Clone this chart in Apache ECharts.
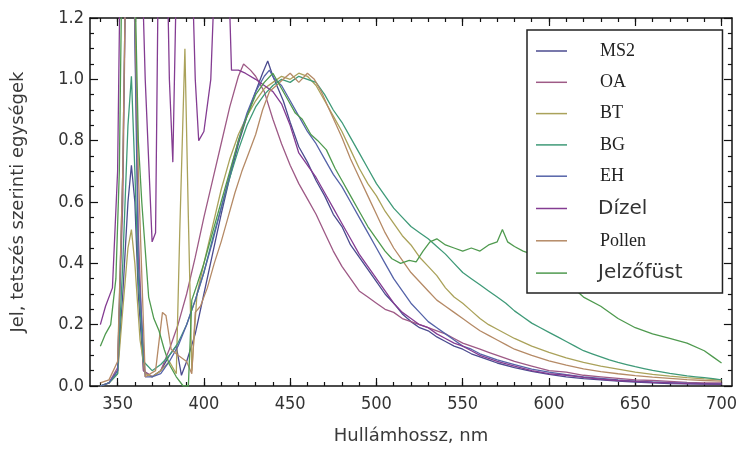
<!DOCTYPE html>
<html><head><meta charset="utf-8">
<script src="https://cdn.jsdelivr.net/npm/echarts@6/dist/echarts.min.js"></script>
<style>html,body{margin:0;padding:0;background:#fff}#c{width:740px;height:450px}</style>
</head><body><div id="c"></div>
<script>
// ---- data (wavelength nm / signal, arbitrary units) ----
const seriesNames = ['MS2','OA','BT','BG','EH','Dízel','Pollen','Jelzőfüst'];
const xTickLabels = [350,400,450,500,550,600,650,700];
const xMinorTicks = [340,350,360,370,380,390,400,410,420,430,440,450,460,470,480,490,500,510,520,530,540,550,560,570,580,590,600,610,620,630,640,650,660,670,680,690,700];

const ms2Nm = [340,345,350,353,356,358,360,362,365,370,375,380,384,387,390,395,400,405,410,415,420,425,430,434,437,440,443,446,450,455,460,465,470,475,480,485,490,495,500,505,510,515,520,525,530,535,540,545,550,555,560,565,570,580,590,600,610,620,630,640,650,660,670,680,690,700];
const ms2Val = [0.0,0.01,0.05,0.3,0.6,0.72,0.6,0.3,0.05,0.03,0.05,0.1,0.13,0.035,0.08,0.17,0.3,0.43,0.56,0.68,0.79,0.88,0.96,1.02,1.06,1.01,0.97,0.93,0.86,0.78,0.73,0.67,0.62,0.56,0.52,0.46,0.42,0.38,0.34,0.3,0.27,0.235,0.21,0.19,0.18,0.16,0.145,0.13,0.12,0.105,0.095,0.085,0.075,0.06,0.048,0.038,0.03,0.024,0.02,0.016,0.013,0.01,0.008,0.007,0.006,0.005];

const oaNm = [340,345,350,353,355,359,362,365,370,375,380,385,390,395,400,405,410,415,420,423,427,430,435,440,445,450,455,460,465,470,475,480,485,490,495,500,505,510,515,520,525,530,535,540,545,550,555,560,565,570,575,580,590,600,610,620,630,640,650,660,670,680,690,700];
const oaVal = [0.0,0.01,0.06,0.6,1.5,1.5,0.5,0.05,0.03,0.05,0.12,0.2,0.3,0.42,0.55,0.67,0.79,0.91,1.01,1.05,1.03,1.01,0.96,0.87,0.79,0.72,0.66,0.61,0.56,0.5,0.44,0.39,0.35,0.31,0.29,0.27,0.25,0.24,0.22,0.21,0.2,0.19,0.18,0.17,0.155,0.14,0.13,0.12,0.11,0.1,0.09,0.08,0.065,0.05,0.045,0.035,0.03,0.025,0.02,0.018,0.015,0.012,0.01,0.01];

const btNm = [340,345,350,353,356,358,360,363,366,370,375,380,384,386,389,391,393,396,400,405,410,415,420,425,430,435,440,445,450,455,460,465,470,475,480,485,490,495,500,505,510,515,520,525,530,535,540,545,550,555,560,565,570,580,590,600,610,620,630,640,650,660,670,680,690,700];
const btVal = [0.0,0.01,0.04,0.25,0.45,0.51,0.4,0.15,0.04,0.03,0.05,0.08,0.04,0.5,1.1,0.55,0.05,0.3,0.4,0.52,0.64,0.74,0.82,0.88,0.93,0.97,0.99,1.01,1.0,1.02,1.01,0.98,0.93,0.88,0.83,0.77,0.71,0.66,0.62,0.57,0.53,0.49,0.46,0.42,0.39,0.36,0.32,0.29,0.27,0.245,0.22,0.2,0.185,0.155,0.13,0.11,0.092,0.077,0.065,0.055,0.045,0.038,0.032,0.027,0.023,0.02];

const bgNm = [340,345,350,353,356,358,360,362,365,370,375,380,385,390,395,400,405,410,415,420,425,430,435,440,445,450,455,460,465,470,475,480,485,490,495,500,505,510,515,520,525,530,535,540,545,550,555,560,565,570,575,580,585,590,595,600,605,610,615,620,625,630,635,640,645,650,655,660,665,670,675,680,685,690,695,700];
const bgVal = [0.0,0.01,0.04,0.4,0.85,1.01,0.7,0.35,0.08,0.05,0.07,0.1,0.14,0.2,0.28,0.37,0.48,0.58,0.68,0.77,0.85,0.91,0.95,0.98,1.0,0.99,1.01,1.0,0.99,0.95,0.9,0.86,0.81,0.76,0.71,0.66,0.62,0.58,0.55,0.52,0.5,0.48,0.455,0.43,0.4,0.37,0.35,0.33,0.31,0.29,0.27,0.245,0.225,0.205,0.19,0.175,0.16,0.145,0.13,0.115,0.105,0.095,0.085,0.077,0.07,0.063,0.057,0.051,0.046,0.041,0.037,0.033,0.03,0.027,0.024,0.02];

const ehNm = [340,345,350,353,355,359,362,366,370,375,380,385,390,395,400,405,410,415,420,425,430,435,438,441,445,450,455,460,465,470,475,480,485,490,495,500,505,510,515,520,525,530,535,540,545,550,555,560,565,570,580,590,600,610,620,630,640,650,660,670,680,690,700];
const ehVal = [0.0,0.01,0.05,0.7,1.5,1.5,0.4,0.03,0.03,0.04,0.08,0.13,0.2,0.28,0.37,0.47,0.58,0.69,0.8,0.89,0.96,1.01,1.03,1.0,0.98,0.93,0.88,0.83,0.79,0.74,0.69,0.65,0.6,0.55,0.5,0.45,0.4,0.35,0.31,0.27,0.24,0.21,0.19,0.17,0.15,0.13,0.12,0.105,0.095,0.085,0.07,0.055,0.045,0.037,0.03,0.025,0.02,0.016,0.013,0.011,0.009,0.008,0.007];

const dizelNm = [340,343,347,350,352,363,366,370,372,374,378,380,382,385,392,395,397,400,404,408,413,416,420,424,430,435,440,445,450,455,460,465,470,475,480,485,490,495,500,505,510,515,520,525,530,535,540,545,550,555,560,565,570,580,590,600,610,620,630,640,650,660,670,680,690,700];
const dizelVal = [0.2,0.26,0.32,0.7,1.6,1.6,1.0,0.47,0.5,1.6,1.6,1.0,0.73,1.6,1.6,1.0,0.8,0.83,1.0,1.6,1.6,1.03,1.03,1.02,1.0,0.98,0.96,0.92,0.85,0.76,0.72,0.68,0.63,0.58,0.53,0.48,0.43,0.39,0.35,0.31,0.27,0.24,0.22,0.2,0.19,0.17,0.155,0.14,0.13,0.115,0.1,0.09,0.08,0.065,0.05,0.04,0.035,0.028,0.022,0.018,0.015,0.012,0.01,0.008,0.007,0.006];

const pollenNm = [340,345,350,353,355,359,362,366,372,376,378,381,385,390,393,395,398,402,406,410,414,418,422,426,430,434,438,442,446,450,455,460,464,468,472,476,480,485,490,495,500,505,510,515,520,525,530,535,540,545,550,555,560,565,570,575,580,590,600,610,620,630,640,650,660,670,680,690,700];
const pollenVal = [0.01,0.02,0.08,0.7,1.5,1.5,0.7,0.03,0.05,0.24,0.23,0.12,0.1,0.08,0.04,0.24,0.26,0.32,0.4,0.47,0.55,0.63,0.7,0.76,0.82,0.9,0.96,0.98,1.0,1.02,0.99,1.02,1.0,0.96,0.91,0.86,0.81,0.74,0.68,0.62,0.56,0.5,0.45,0.41,0.37,0.34,0.31,0.28,0.26,0.24,0.22,0.2,0.18,0.165,0.15,0.135,0.12,0.1,0.082,0.068,0.056,0.047,0.04,0.034,0.029,0.025,0.021,0.018,0.016];

const smokeNm = [340,343,346,349,351,353,359,362,364,368,371,374,377,380,384,388,391,393,396,400,405,410,415,420,425,430,435,440,444,449,453,457,462,466,471,476,480,485,490,495,500,505,509,514,519,523,527,531,535,540,545,550,555,560,565,570,573,576,580,585,590,595,600,610,620,630,640,650,660,670,680,690,695,700];
const smokeVal = [0.13,0.17,0.2,0.35,0.7,1.6,1.6,0.8,0.6,0.29,0.22,0.18,0.12,0.07,0.03,0.0,0.0,0.28,0.33,0.4,0.5,0.6,0.7,0.8,0.88,0.95,0.99,1.02,0.98,0.93,0.89,0.87,0.82,0.8,0.77,0.71,0.67,0.62,0.57,0.52,0.48,0.44,0.415,0.4,0.41,0.405,0.44,0.47,0.48,0.46,0.45,0.44,0.45,0.44,0.46,0.47,0.51,0.47,0.455,0.44,0.43,0.41,0.38,0.34,0.29,0.26,0.22,0.19,0.17,0.155,0.14,0.115,0.095,0.075];

const seriesColors = ['#4b4b8f','#9e5a86','#aaa25a','#3f9a78','#5563a8','#843c92','#b58a66','#4f9a4f'];

// ---- build ----
function zip(xs, ys){ const n=Math.min(xs.length, ys.length); const out=[]; for(let i=0;i<n;i++) out.push([xs[i], ys[i]]); return out; }
const allData = [zip(ms2Nm,ms2Val), zip(oaNm,oaVal), zip(btNm,btVal), zip(bgNm,bgVal), zip(ehNm,ehVal), zip(dizelNm,dizelVal), zip(pollenNm,pollenVal), zip(smokeNm,smokeVal)];

const X_MIN = 334, X_MAX = 706;
const axisCol = '#111';
const labelFont = {fontFamily:'"Liberation Sans Narrow","DejaVu Sans Condensed","Liberation Sans",sans-serif', fontSize:18, color:'#333'};
const serifItem = {fontFamily:'"Liberation Serif",serif', fontSize:18, color:'#222', lineHeight:16, padding:[0,0,0,28]};
const sansItem = {fontFamily:'"DejaVu Sans",sans-serif', fontSize:20, color:'#333', lineHeight:16, padding:[0,0,0,26]};

function xAx(pos, major, show){
  return {type:'value', min:X_MIN, max:X_MAX, position:pos, gridIndex:0,
    axisLine:{show:show, onZero:false, lineStyle:{color:axisCol, width:1.5}},
    axisTick:{show:true, inside:true, length: major?8:4, customValues: major?xTickLabels:xMinorTicks, lineStyle:{color:axisCol, width:1.2}},
    axisLabel:{show: pos==='bottom' && major, customValues:xTickLabels, margin:9, ...labelFont},
    splitLine:{show:false}};
}
const xAxes = [xAx('bottom',true,true), xAx('bottom',false,false), xAx('top',true,true), xAx('top',false,false)];
xAxes[0].name = 'Hullámhossz, nm';
xAxes[0].nameLocation = 'middle';
xAxes[0].nameGap = 41;
xAxes[0].nameTextStyle = {fontFamily:'"DejaVu Sans",sans-serif', fontSize:18, color:'#3a3a3a'};

function yAx(pos){
  return {type:'value', min:0, max:1.2, interval:0.2, position:pos, gridIndex:0,
    axisLine:{show:true, onZero:false, lineStyle:{color:axisCol, width:1.5}},
    axisTick:{show:true, inside:true, length:8, lineStyle:{color:axisCol, width:1.2}},
    minorTick:{show:true, splitNumber:4, length:4, lineStyle:{color:axisCol, width:1.2}},
    axisLabel:{show: pos==='left', margin:6, formatter:v=>v.toFixed(1), ...labelFont},
    splitLine:{show:false}, minorSplitLine:{show:false}};
}
const yAxes = [yAx('left'), yAx('right')];
yAxes[0].name = 'Jel, tetszés szerinti egységek';
yAxes[0].nameLocation = 'middle';
yAxes[0].nameGap = 63;
yAxes[0].nameTextStyle = {fontFamily:'"DejaVu Sans",sans-serif', fontSize:18, color:'#3a3a3a'};

const series = seriesNames.map((n,i)=>({
  name:n, type:'line', data:allData[i], xAxisIndex:0, yAxisIndex:0,
  showSymbol:false, symbol:'none', clip:true, z:2,
  lineStyle:{color:seriesColors[i], width:1.3}, itemStyle:{color:seriesColors[i]},
  emphasis:{disabled:true}, animation:false
}));

const legendData = seriesNames.map(n=>({name:n, textStyle:(n==='Dízel'||n==='Jelzőfüst')?sansItem:serifItem}));

const chart = echarts.init(document.getElementById('c'), null, {renderer:'canvas'});
chart.setOption({
  backgroundColor:'#fff',
  animation:false,
  grid:{left:90, right:7, top:18, bottom:62},
  xAxis:xAxes, yAxis:yAxes, series:series,
  legend:{show:true, data:legendData, orient:'vertical', left:527, top:30, align:'left',
    icon:'rect', itemWidth:31, itemHeight:1.5, itemGap:13.3,
    padding:[12,40,10,9], borderColor:'#222', borderWidth:1.5, backgroundColor:'#fff',
    selectedMode:false, z:10}
});
</script></body></html>
